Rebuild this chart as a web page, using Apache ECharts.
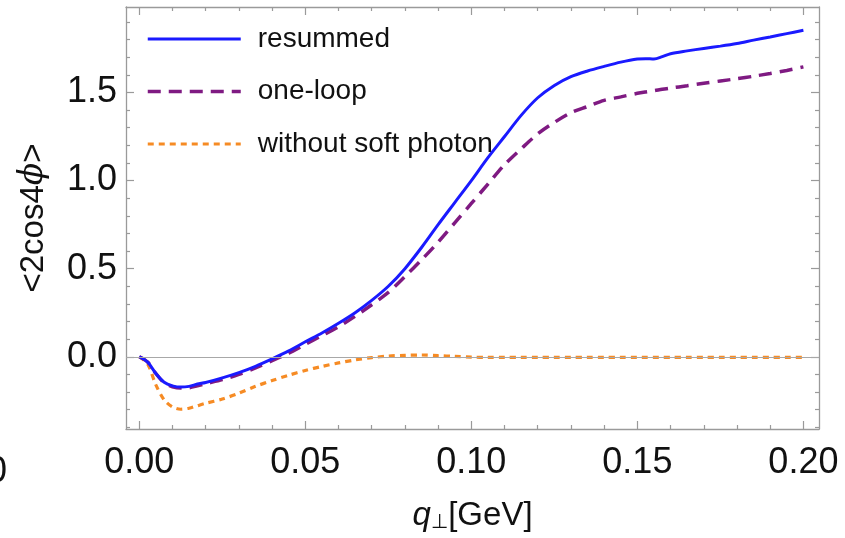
<!DOCTYPE html>
<html>
<head>
<meta charset="utf-8">
<script src="https://cdn.jsdelivr.net/npm/echarts@6/dist/echarts.min.js"></script>
<style>html,body{margin:0;padding:0;background:#fff}#c{width:845px;height:538px}</style>
</head>
<body>
<div id="c"></div>
<script>
// ---- data ----
const qT = [0, 0.0025, 0.005, 0.0075, 0.01, 0.0125, 0.015, 0.0175, 0.02, 0.025, 0.03, 0.035, 0.04, 0.045, 0.05,
  0.055, 0.06, 0.065, 0.07, 0.075, 0.08, 0.085, 0.09, 0.095, 0.1, 0.105, 0.11, 0.115, 0.12, 0.125, 0.13,
  0.135, 0.14, 0.145, 0.15, 0.1525, 0.155, 0.1575, 0.16, 0.165, 0.17, 0.175, 0.18, 0.185, 0.19, 0.195, 0.2];
const resummed = [0, -0.03, -0.095, -0.145, -0.165, -0.172, -0.168, -0.155, -0.146, -0.12, -0.09, -0.054, -0.012, 0.033, 0.085,
  0.135, 0.19, 0.25, 0.32, 0.40, 0.50, 0.62, 0.75, 0.875, 1.0, 1.13, 1.25, 1.37, 1.47, 1.54, 1.59,
  1.622, 1.648, 1.672, 1.69, 1.692, 1.69, 1.703, 1.72, 1.736, 1.75, 1.763, 1.778, 1.797, 1.815, 1.834, 1.853];
const oneLoop = [0, -0.03, -0.095, -0.148, -0.17, -0.178, -0.176, -0.165, -0.153, -0.13, -0.1, -0.063, -0.022, 0.02, 0.07,
  0.12, 0.17, 0.23, 0.295, 0.365, 0.455, 0.55, 0.65, 0.76, 0.87, 0.98, 1.09, 1.18, 1.265, 1.33, 1.385,
  1.42, 1.455, 1.475, 1.495, 1.503, 1.51, 1.518, 1.525, 1.538, 1.552, 1.565, 1.578, 1.592, 1.608, 1.625, 1.645];
const noSoftPhoton = [0, -0.04, -0.16, -0.245, -0.285, -0.298, -0.292, -0.278, -0.264, -0.24, -0.207, -0.168, -0.135, -0.105, -0.078,
  -0.055, -0.035, -0.018, -0.005, 0.004, 0.008, 0.01, 0.006, 0.002, -0.002, -0.004, -0.004, -0.004, -0.004, -0.004, -0.004,
  -0.004, -0.004, -0.004, -0.004, -0.004, -0.004, -0.004, -0.004, -0.004, -0.004, -0.004, -0.004, -0.004, -0.004, -0.004, -0.004];
const seriesNames = ['resummed', 'one-loop', 'without soft photon'];
const xMajorTicks = [0, 0.05, 0.1, 0.15, 0.2];
const xMinorTicks = [0.01, 0.02, 0.03, 0.04, 0.06, 0.07, 0.08, 0.09, 0.11, 0.12, 0.13, 0.14, 0.16, 0.17, 0.18, 0.19];
const yMajorTicks = [0, 0.5, 1.0, 1.5];
const yMinorTicks = [-0.4, -0.3, -0.2, -0.1, 0.1, 0.2, 0.3, 0.4, 0.6, 0.7, 0.8, 0.9, 1.1, 1.2, 1.3, 1.4, 1.6, 1.7, 1.8, 1.9];

// ---- chart ----
const FONT = 'Liberation Sans, Arial, sans-serif';
const FRAME = '#9a9a9a';
const X_MIN = -0.004, X_MAX = 0.2047, Y_MIN = -0.41, Y_MAX = 1.985;
const COLORS = ['#1a1aff', '#7f1a82', '#f68b24'];
const WIDTHS = [3, 3.5, 3.2];
const DASHES = ['solid', [13, 8], [6, 5]];

function xAx(pos, ticks, len, showLine, showLabel) {
  return {
    type: 'value', position: pos, min: X_MIN, max: X_MAX,
    axisLine: { show: showLine, onZero: false, lineStyle: { color: FRAME, width: 1.3 } },
    axisTick: { show: true, inside: true, length: len, customValues: ticks, lineStyle: { color: FRAME, width: 1.2 } },
    axisLabel: showLabel ? { show: true, customValues: ticks, formatter: v => v.toFixed(2), fontSize: 36,
      fontFamily: FONT, color: '#111', margin: 16 } : { show: false },
    splitLine: { show: false }
  };
}
function yAx(pos, ticks, len, showLine, showLabel) {
  return {
    type: 'value', position: pos, min: Y_MIN, max: Y_MAX,
    axisLine: { show: showLine, onZero: false, lineStyle: { color: FRAME, width: 1.3 } },
    axisTick: { show: true, inside: true, length: len, customValues: ticks, lineStyle: { color: FRAME, width: 1.2 } },
    axisLabel: showLabel ? { show: true, customValues: ticks, formatter: v => v.toFixed(1), fontSize: 36,
      fontFamily: FONT, color: '#111', margin: 9 } : { show: false },
    splitLine: { show: false }
  };
}

const xAxes = [
  xAx('bottom', xMajorTicks, 8, true, true),
  xAx('bottom', xMinorTicks, 4, false, false),
  xAx('top', xMajorTicks, 8, true, false),
  xAx('top', xMinorTicks, 4, false, false)
];
Object.assign(xAxes[0], {
  name: '{q|q}{sub|⊥}{n|[GeV]}', nameLocation: 'middle', nameGap: 70,
  nameTextStyle: { rich: {
    q: { fontSize: 33, fontStyle: 'italic', fontFamily: FONT, color: '#111' },
    sub: { fontSize: 20, fontFamily: 'DejaVu Sans', color: '#111', verticalAlign: 'bottom', padding: [14, 0, 0, 0] },
    n: { fontSize: 33, fontFamily: FONT, color: '#111' }
  } }
});
const yAxes = [
  yAx('left', yMajorTicks, 8, true, true),
  yAx('left', yMinorTicks, 4, false, false),
  yAx('right', yMajorTicks, 8, true, false),
  yAx('right', yMinorTicks, 4, false, false)
];
Object.assign(yAxes[0], {
  name: '{n|<2cos4}{p|ϕ}{n|>}', nameLocation: 'middle', nameGap: 76, nameRotate: 90,
  nameTextStyle: { rich: {
    n: { fontSize: 33, fontFamily: FONT, color: '#111' },
    p: { fontSize: 33, fontStyle: 'italic', fontFamily: 'DejaVu Serif', color: '#111' }
  } }
});

const pairs = arr => qT.map((x, i) => [x, arr[i]]);
const values = [resummed, oneLoop, noSoftPhoton];

const curveSeries = seriesNames.map((name, i) => ({
  type: 'line', name, data: pairs(values[i]), symbol: 'none', smooth: 0.3, z: 4 - i,
  lineStyle: { color: COLORS[i], width: WIDTHS[i], type: DASHES[i] }, itemStyle: { color: COLORS[i] }
}));

const option = {
  animation: false,
  backgroundColor: '#fff',
  grid: { left: 126, right: 26, top: 7, bottom: 99, containLabel: false },
  xAxis: xAxes,
  yAxis: yAxes,
  legend: {
    data: seriesNames.map((name, i) => ({
      name, itemStyle: { opacity: 0 },
      lineStyle: { color: COLORS[i], width: WIDTHS[i], type: DASHES[i] }
    })),
    orient: 'vertical', left: 141, top: 19,
    itemWidth: 93, itemHeight: 14, itemGap: 22.5,
    itemStyle: { opacity: 0 },
    textStyle: { fontSize: 28, fontFamily: FONT, color: '#111', lineHeight: 30, padding: [0, 0, 0, 12] }
  },
  series: [
    { type: 'line', name: 'zero', data: [], silent: true, z: 1,
      markLine: { silent: true, symbol: 'none', label: { show: false },
        lineStyle: { color: '#a8a8a8', width: 1.2, type: 'solid' }, data: [{ yAxis: 0 }] } }
  ].concat(curveSeries.reverse()),
  graphic: [
    { type: 'text', left: -13, top: 454, style: { text: '0', fontSize: 36, fontFamily: FONT, fill: '#111' } }
  ]
};

const chart = echarts.init(document.getElementById('c'), null, { renderer: 'canvas' });
chart.setOption(option);
</script>
</body>
</html>
